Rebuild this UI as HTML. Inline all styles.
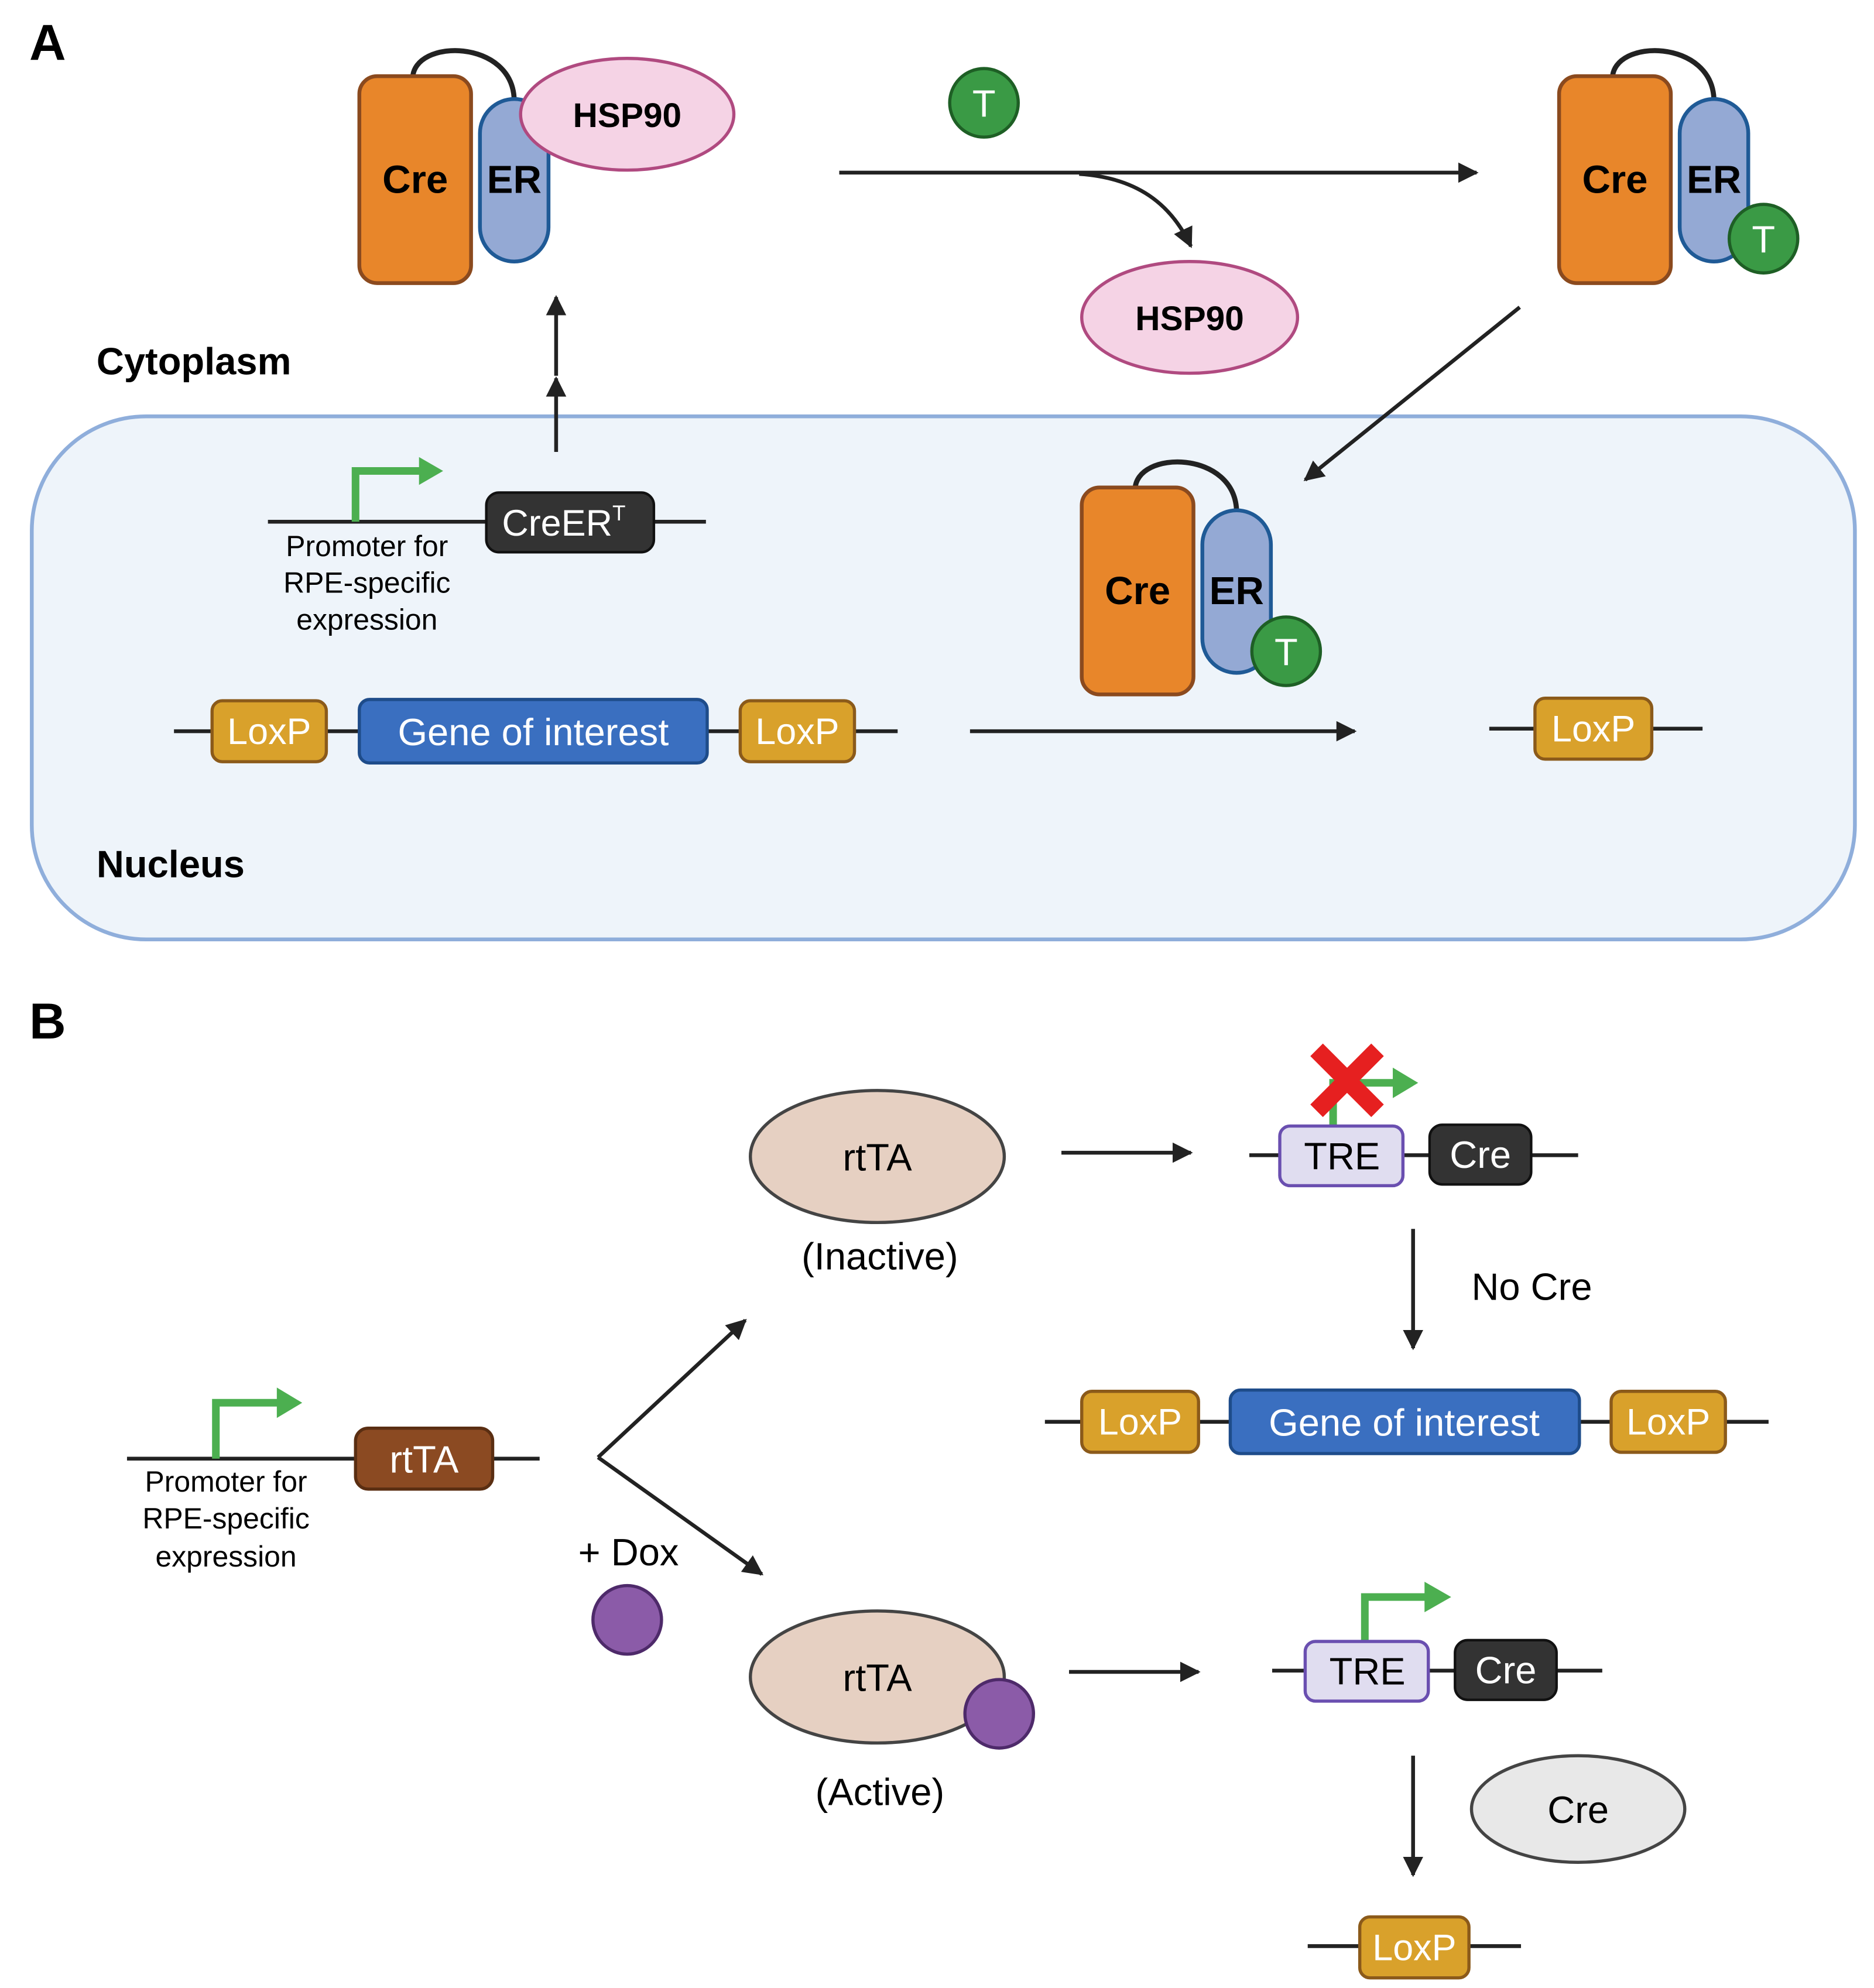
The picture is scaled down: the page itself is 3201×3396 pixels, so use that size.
<!DOCTYPE html>
<html><head><meta charset="utf-8"><style>html,body{margin:0;padding:0;background:#fff}svg{display:block}</style></head>
<body>
<svg xmlns="http://www.w3.org/2000/svg" width="3201" height="3396" viewBox="0 0 1476 1566" font-family="Liberation Sans, sans-serif">
<defs>
<marker id="ah2" viewBox="0 0 10 10" refX="9" refY="5" markerWidth="16" markerHeight="16" orient="auto" markerUnits="userSpaceOnUse"><path d="M0,0 L10,5 L0,10 z" fill="#222"/></marker>
</defs>
<rect width="1476" height="1566" fill="#fff"/>
<text x="23" y="47" font-size="40" font-weight="bold">A</text>
<text x="23" y="818" font-size="40" font-weight="bold">B</text>

<rect x="25" y="328" width="1436" height="412" rx="90" fill="#EEF4FA" stroke="#8FAEDB" stroke-width="3"/>
<text x="76" y="295" font-size="30" font-weight="bold">Cytoplasm</text>
<text x="76" y="691" font-size="30" font-weight="bold">Nucleus</text>

<g id="creer">
<path d="M325 62 C325 30, 405 30, 405 80" fill="none" stroke="#222" stroke-width="4"/>
<rect x="283" y="60" width="88" height="163" rx="14" fill="#E8862A" stroke="#8B4A1E" stroke-width="3"/>
<rect x="378" y="78" width="54" height="128" rx="27" fill="#94A9D4" stroke="#1F5A96" stroke-width="3"/>
<text x="327" y="152" font-size="31" font-weight="bold" text-anchor="middle">Cre</text>
<text x="405" y="152" font-size="31" font-weight="bold" text-anchor="middle">ER</text>
</g>
<ellipse cx="494" cy="90" rx="84" ry="44" fill="#F5D3E5" stroke="#B04A80" stroke-width="2.5"/>
<text x="494" y="100" font-size="27" font-weight="bold" text-anchor="middle">HSP90</text>

<circle cx="775" cy="81" r="27" fill="#3A9A45" stroke="#1E5F25" stroke-width="2.5"/>
<text x="775" y="92" font-size="30" fill="#fff" text-anchor="middle">T</text>
<line x1="661" y1="136" x2="1163" y2="136" stroke="#222" stroke-width="3" marker-end="url(#ah2)"/>
<path d="M850 137 C895 140 922 160 938 194" fill="none" stroke="#222" stroke-width="3" marker-end="url(#ah2)"/>
<ellipse cx="937" cy="250" rx="85" ry="44" fill="#F5D3E5" stroke="#B04A80" stroke-width="2.5"/>
<text x="937" y="260" font-size="27" font-weight="bold" text-anchor="middle">HSP90</text>

<use href="#creer" transform="translate(945,0)"/>
<circle cx="1389" cy="188" r="27" fill="#3A9A45" stroke="#1E5F25" stroke-width="2.5"/>
<text x="1389" y="199" font-size="30" fill="#fff" text-anchor="middle">T</text>
<line x1="1197" y1="242" x2="1028" y2="378" stroke="#222" stroke-width="3" marker-end="url(#ah2)"/>

<use href="#creer" transform="translate(569,324)"/>
<circle cx="1013" cy="513" r="27" fill="#3A9A45" stroke="#1E5F25" stroke-width="2.5"/>
<text x="1013" y="524" font-size="30" fill="#fff" text-anchor="middle">T</text>

<line x1="438" y1="356" x2="438" y2="298" stroke="#222" stroke-width="3" marker-end="url(#ah2)"/>
<line x1="438" y1="296" x2="438" y2="234" stroke="#222" stroke-width="3" marker-end="url(#ah2)"/>

<line x1="211" y1="411" x2="556" y2="411" stroke="#222" stroke-width="3"/>
<path d="M280 411 V371 H332" fill="none" stroke="#4CAF50" stroke-width="6"/>
<path d="M330 360 L349 371 L330 382 z" fill="#4CAF50"/>
<rect x="383" y="388" width="132" height="47" rx="10" fill="#333" stroke="#111" stroke-width="2"/>
<text x="444" y="422" font-size="29" fill="#fff" text-anchor="middle">CreER<tspan font-size="17" dy="-12">T</tspan></text>
<g font-size="23" text-anchor="middle">
<text x="289" y="438">Promoter for</text><text x="289" y="467">RPE-specific</text><text x="289" y="496">expression</text></g>

<line x1="137" y1="576" x2="707" y2="576" stroke="#222" stroke-width="3"/>
<rect x="167" y="552" width="90" height="48" rx="8" fill="#D9A12B" stroke="#8B5A1A" stroke-width="2.5"/>
<text x="212" y="586" font-size="29" fill="#fff" text-anchor="middle">LoxP</text>
<rect x="283" y="551" width="274" height="50" rx="8" fill="#3A6FC0" stroke="#1E4C8A" stroke-width="2.5"/>
<text x="420" y="587" font-size="30" fill="#fff" text-anchor="middle">Gene of interest</text>
<rect x="583" y="552" width="90" height="48" rx="8" fill="#D9A12B" stroke="#8B5A1A" stroke-width="2.5"/>
<text x="628" y="586" font-size="29" fill="#fff" text-anchor="middle">LoxP</text>
<line x1="764" y1="576" x2="1067" y2="576" stroke="#222" stroke-width="3" marker-end="url(#ah2)"/>
<line x1="1173" y1="574" x2="1341" y2="574" stroke="#222" stroke-width="3"/>
<rect x="1209" y="550" width="92" height="48" rx="8" fill="#D9A12B" stroke="#8B5A1A" stroke-width="2.5"/>
<text x="1255" y="584" font-size="29" fill="#fff" text-anchor="middle">LoxP</text>

<line x1="100" y1="1149" x2="425" y2="1149" stroke="#222" stroke-width="3"/>
<path d="M170 1149 V1105 H220" fill="none" stroke="#4CAF50" stroke-width="6"/>
<path d="M218 1093 L238 1105 L218 1117 z" fill="#4CAF50"/>
<rect x="280" y="1125" width="108" height="48" rx="10" fill="#8B4A22" stroke="#5A2E12" stroke-width="2.5"/>
<text x="334" y="1160" font-size="30" fill="#fff" text-anchor="middle">rtTA</text>
<g font-size="23" text-anchor="middle">
<text x="178" y="1175">Promoter for</text><text x="178" y="1204">RPE-specific</text><text x="178" y="1234">expression</text></g>
<line x1="471" y1="1148" x2="587" y2="1040" stroke="#222" stroke-width="3" marker-end="url(#ah2)"/>
<line x1="471" y1="1148" x2="600" y2="1240" stroke="#222" stroke-width="3" marker-end="url(#ah2)"/>
<text x="495" y="1233" font-size="30" text-anchor="middle">+ Dox</text>
<circle cx="494" cy="1276" r="27" fill="#8B5BA8" stroke="#4E2A6A" stroke-width="2.5"/>

<ellipse cx="691" cy="911" rx="100" ry="52" fill="#E6D0C2" stroke="#444" stroke-width="2.5"/>
<text x="691" y="922" font-size="30" text-anchor="middle">rtTA</text>
<text x="693" y="1000" font-size="30" text-anchor="middle">(Inactive)</text>
<ellipse cx="691" cy="1321" rx="100" ry="52" fill="#E6D0C2" stroke="#444" stroke-width="2.5"/>
<text x="691" y="1332" font-size="30" text-anchor="middle">rtTA</text>
<circle cx="787" cy="1350" r="27" fill="#8B5BA8" stroke="#4E2A6A" stroke-width="2.5"/>
<text x="693" y="1422" font-size="30" text-anchor="middle">(Active)</text>

<line x1="836" y1="908" x2="938" y2="908" stroke="#222" stroke-width="3" marker-end="url(#ah2)"/>
<line x1="842" y1="1317" x2="944" y2="1317" stroke="#222" stroke-width="3" marker-end="url(#ah2)"/>

<line x1="984" y1="910" x2="1243" y2="910" stroke="#222" stroke-width="3"/>
<path d="M1050 887 V853 H1099" fill="none" stroke="#4CAF50" stroke-width="6"/>
<path d="M1097 841 L1117 853 L1097 865 z" fill="#4CAF50"/>
<rect x="1008" y="887" width="97" height="47" rx="8" fill="#E0DDF0" stroke="#6A4FB0" stroke-width="2.5"/>
<text x="1057" y="921" font-size="30" text-anchor="middle">TRE</text>
<rect x="1126" y="886" width="80" height="47" rx="10" fill="#333" stroke="#111" stroke-width="2"/>
<text x="1166" y="920" font-size="30" fill="#fff" text-anchor="middle">Cre</text>
<path d="M1037 827 L1085 875 M1085 827 L1037 875" stroke="#E62020" stroke-width="14"/>

<line x1="1113" y1="968" x2="1113" y2="1062" stroke="#222" stroke-width="3" marker-end="url(#ah2)"/>
<text x="1159" y="1024" font-size="30">No Cre</text>

<line x1="823" y1="1120" x2="1393" y2="1120" stroke="#222" stroke-width="3"/>
<rect x="852" y="1096" width="92" height="48" rx="8" fill="#D9A12B" stroke="#8B5A1A" stroke-width="2.5"/>
<text x="898" y="1130" font-size="29" fill="#fff" text-anchor="middle">LoxP</text>
<rect x="969" y="1095" width="275" height="50" rx="8" fill="#3A6FC0" stroke="#1E4C8A" stroke-width="2.5"/>
<text x="1106" y="1131" font-size="30" fill="#fff" text-anchor="middle">Gene of interest</text>
<rect x="1269" y="1096" width="90" height="48" rx="8" fill="#D9A12B" stroke="#8B5A1A" stroke-width="2.5"/>
<text x="1314" y="1130" font-size="29" fill="#fff" text-anchor="middle">LoxP</text>

<line x1="1002" y1="1316" x2="1262" y2="1316" stroke="#222" stroke-width="3"/>
<path d="M1075 1293 V1258 H1124" fill="none" stroke="#4CAF50" stroke-width="6"/>
<path d="M1122 1246 L1143 1258 L1122 1270 z" fill="#4CAF50"/>
<rect x="1028" y="1293" width="97" height="47" rx="8" fill="#E0DDF0" stroke="#6A4FB0" stroke-width="2.5"/>
<text x="1077" y="1327" font-size="30" text-anchor="middle">TRE</text>
<rect x="1146" y="1292" width="80" height="47" rx="10" fill="#333" stroke="#111" stroke-width="2"/>
<text x="1186" y="1326" font-size="30" fill="#fff" text-anchor="middle">Cre</text>

<line x1="1113" y1="1383" x2="1113" y2="1477" stroke="#222" stroke-width="3" marker-end="url(#ah2)"/>
<ellipse cx="1243" cy="1425" rx="84" ry="42" fill="#E8E8E8" stroke="#444" stroke-width="2.5"/>
<text x="1243" y="1436" font-size="30" text-anchor="middle">Cre</text>

<line x1="1030" y1="1533" x2="1198" y2="1533" stroke="#222" stroke-width="3"/>
<rect x="1071" y="1510" width="86" height="48" rx="8" fill="#D9A12B" stroke="#8B5A1A" stroke-width="2.5"/>
<text x="1114" y="1544" font-size="29" fill="#fff" text-anchor="middle">LoxP</text>
</svg>
</body></html>
